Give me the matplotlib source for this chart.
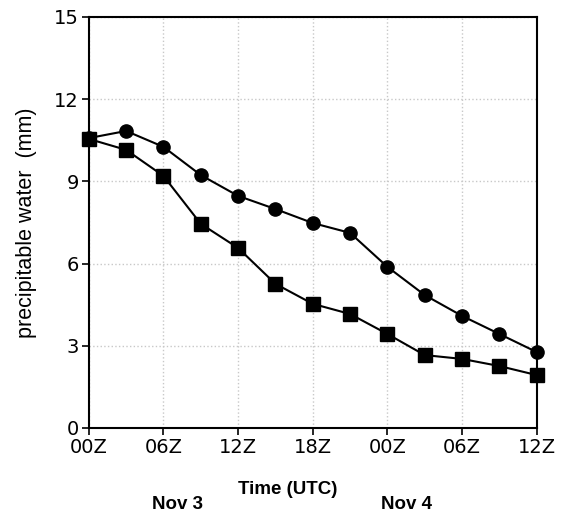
import numpy as np
import matplotlib
matplotlib.use("Agg")
import matplotlib.pyplot as plt

# hours since 00Z Nov 3
hours = [0, 3, 6, 9, 12, 15, 18, 21, 24, 27, 30, 33, 36]
pw_circle = [10.58, 10.84, 10.26, 9.23, 8.47, 7.99, 7.48, 7.12, 5.88, 4.85, 4.09, 3.43, 2.77]
pw_square = [10.55, 10.15, 9.2, 7.45, 6.57, 5.26, 4.53, 4.16, 3.43, 2.66, 2.52, 2.26, 1.93]

tick_hours = [0, 6, 12, 18, 24, 30, 36]
tick_labels = ["00Z", "06Z", "12Z", "18Z", "00Z", "06Z", "12Z"]
yticks = [0, 3, 6, 9, 12, 15]

fam = ["Liberation Sans", "DejaVu Sans"]

fig = plt.figure(figsize=(5.62, 5.15), dpi=100)
ax = fig.add_axes([0.158, 0.169, 0.797, 0.798])

ax.plot(hours, pw_circle, color="black", lw=1.5, marker="o", ms=9.5, clip_on=False, zorder=3)
ax.plot(hours, pw_square, color="black", lw=1.5, marker="s", ms=9.5, clip_on=False, zorder=3)

ax.set_xlim(0, 36)
ax.set_ylim(0, 15)
ax.set_xticks(tick_hours)
ax.set_xticklabels(tick_labels)
ax.set_yticks(yticks)
ax.tick_params(labelsize=14, direction="out", length=5, width=1.2, pad=2)
ax.grid(True, color="#c8c8c8", linestyle=":", linewidth=1)
for s in ax.spines.values():
    s.set_linewidth(1.5)

ax.set_ylabel("precipitable water  (mm)", fontsize=15.5, family=fam)
ax.yaxis.set_label_coords(-0.115, 0.5)
fig.text(0.512, 0.041, "Time (UTC)", fontsize=13.5, fontweight="bold", ha="center", family=fam)
fig.text(0.315, 0.011, "Nov 3", fontsize=13.5, fontweight="bold", ha="center", family=fam)
fig.text(0.724, 0.011, "Nov 4", fontsize=13.5, fontweight="bold", ha="center", family=fam)

fig.savefig("out.png", dpi=100)
